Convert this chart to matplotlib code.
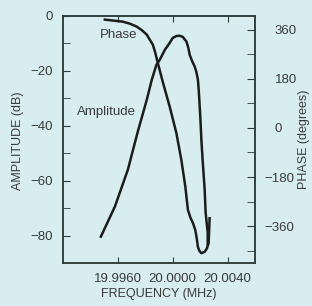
import numpy as np
import matplotlib
matplotlib.use("Agg")
import matplotlib.pyplot as plt
from matplotlib.transforms import ScaledTranslation

plt.rcParams['font.family'] = ['Liberation Sans', 'DejaVu Sans']

# values (frequency in MHz)
amp_freq = [19.99476, 19.99578, 19.99673, 19.99745, 19.99811, 19.99847, 19.99881,
            19.99905, 19.99942, 19.99978, 20.00000, 20.00027, 20.00051, 20.00073,
            20.00100, 20.00114, 20.00124, 20.00143, 20.00160, 20.00172, 20.00184,
            20.00191, 20.00201, 20.00209, 20.00218, 20.00233, 20.00240, 20.00255,
            20.00255]
amp_db = [-80.4, -69.5, -56.0, -42.2, -30.5, -23.3, -17.8,
          -16.0, -12.4, -9.8, -8.0, -7.3, -7.2, -7.6,
          -9.3, -11.6, -14.2, -16.6, -18.4, -20.3, -23.3,
          -28.0, -36.6, -45.1, -52.4, -63.3, -71.6, -78.9,
          -83.3]

phase_freq = [19.99505, 19.99636, 19.99687, 19.99738, 19.99775, 19.99811, 19.99833,
              19.99855, 19.99873, 19.99891, 19.99930, 19.99978, 20.00027,
              20.00063, 20.00092, 20.00111, 20.00131, 20.00148, 20.00165,
              20.00175, 20.00184, 20.00196, 20.00209, 20.00233, 20.00249, 20.00262,
              20.00269]
phase_deg = [396.7, 389.3, 382.0, 371.0, 358.0, 341.6, 323.0,
             304.9, 275.0, 238.7, 164.0, 78.0, -19.6,
             -117.5, -215, -301, -331, -349, -375,
             -404, -437, -452, -459, -454, -442, -422,
             -331]

freq_ticks = [19.996, 20.000, 20.004]
amp_ticks = [-80, -60, -40, -20, 0]
phase_ticks = [-360, -180, 0, 180, 360]

bg = '#d8edef'
ink = '#1c1c1c'
txt = '#3a3a3a'
spine_c = '#2e3c3a'

fig = plt.figure(figsize=(3.12, 3.06), dpi=100, facecolor=bg)
ax = fig.add_axes([63 / 312, 1 - 263 / 306, 192 / 312, 247 / 306])
ax.set_facecolor(bg)
ax2 = ax.twinx()

ax.plot(amp_freq, amp_db, color=ink, lw=1.8, solid_joinstyle='round')
ax2.plot(phase_freq, phase_deg, color=ink, lw=1.8, solid_joinstyle='round')

ax.set_xlim(19.992, 20.006)
ax.set_ylim(-90, 0)
ax2.set_ylim(-495, 410)

ax.set_xticks(freq_ticks)
ax.set_xticklabels(['%.4f' % f for f in freq_ticks])
ax.set_yticks(amp_ticks)
ax.set_yticklabels(['0' if v == 0 else '\u2212%d' % -v for v in amp_ticks])
ax.set_yticks(np.arange(-70, 0, 20), minor=True)
ax2.set_yticks(phase_ticks)
ax2.set_yticklabels(['\u2212%d' % -v if v < 0 else '%d' % v for v in phase_ticks])
ax2.set_yticks(np.arange(-450, 400, 180), minor=True)

ax.tick_params(axis='x', which='both', direction='in', length=4, top=True,
               pad=7, labelsize=9.5, colors=spine_c, labelcolor=txt)
ax.tick_params(axis='y', which='both', direction='in', length=5, right=False,
               pad=7, labelsize=9.5, colors=spine_c, labelcolor=txt)
ax2.tick_params(axis='y', which='both', direction='in', length=6,
                pad=7, labelsize=9.5, colors=spine_c, labelcolor=txt)

for a in (ax, ax2):
    for s in a.spines.values():
        s.set_color(spine_c)
        s.set_linewidth(1.1)

# digits of right labels line up, minus sign hangs to the left
for lab, v in zip(ax2.get_yticklabels(), phase_ticks):
    if v >= 0:
        lab.set_transform(lab.get_transform() + ScaledTranslation(10 / 100, 0, fig.dpi_scale_trans))

ax.text(19.99607, -7.1, 'Phase', fontsize=9.5, color=txt, ha='center', va='center')
ax.text(19.99516, -34.9, 'Amplitude', fontsize=9.5, color=txt, ha='center', va='center')

fig.text(18.5 / 312, 1 - 141 / 306, 'AMPLITUDE (dB)', rotation=90, fontsize=9,
         color=txt, ha='center', va='center')
fig.text(304.5 / 312, 1 - 139.5 / 306, 'PHASE (degrees)', rotation=90, fontsize=9,
         color=txt, ha='center', va='center')
fig.text(159 / 312, 1 - 294 / 306, 'FREQUENCY (MHz)', fontsize=9,
         color=txt, ha='center', va='center')

fig.savefig('out.png', dpi=100, facecolor=bg)
